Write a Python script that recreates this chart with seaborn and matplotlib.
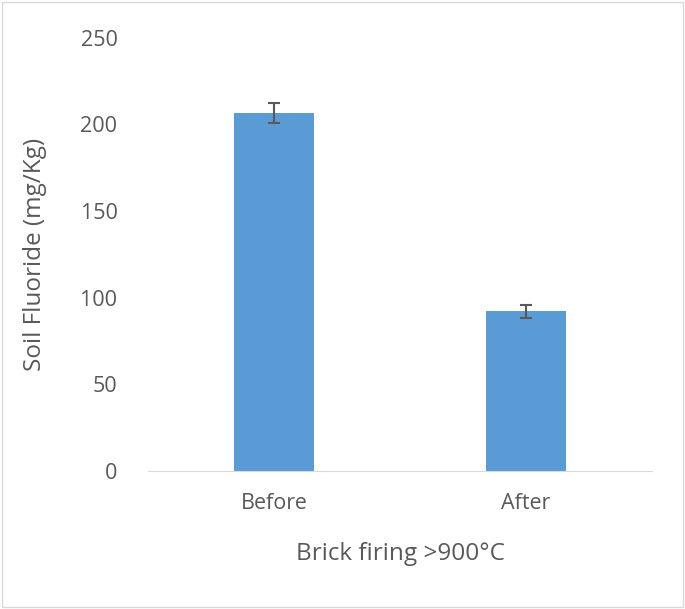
import matplotlib
matplotlib.use("Agg")
import matplotlib.pyplot as plt
import seaborn as sns
import pandas as pd
from matplotlib.patches import Rectangle

categories = ["Before", "After"]
values = [206.5, 92.0]
errors = [6.0, 3.8]

plt.rcParams["font.family"] = "Open Sans"
df = pd.DataFrame({"cat": categories, "val": values})

fig = plt.figure(figsize=(6.85, 6.09), dpi=100)
ax = fig.add_axes([0.216, 0.227, 0.736, 0.711])
sns.barplot(data=df, x="cat", y="val", color="#5B9BD5", saturation=1, width=0.32, ax=ax)
ax.errorbar(range(len(categories)), values, yerr=errors, fmt="none",
            ecolor="#595959", elinewidth=1.5, capsize=4, capthick=1.5)
ax.set_ylim(0, 250)
ax.set_yticks([0, 50, 100, 150, 200, 250])
ax.set_xlim(-0.5, 1.5)
for s in ["top", "right", "left"]:
    ax.spines[s].set_visible(False)
ax.spines["bottom"].set_color("#D9D9D9")
ax.tick_params(axis="both", length=0, labelsize=15.5, colors="#595959", pad=16)
ax.tick_params(axis="y", pad=22)
ax.set_xlabel("Brick firing >900°C", fontsize=17.5, color="#595959", labelpad=20)
ax.set_ylabel("Soil Fluoride (mg/Kg)", fontsize=17.5, color="#595959", labelpad=24)
fig.patches.append(Rectangle((0.003, 0.003), 0.994, 0.994, transform=fig.transFigure,
                             fill=False, edgecolor="#D9D9D9", linewidth=1))
fig.savefig("out.png", dpi=100)
